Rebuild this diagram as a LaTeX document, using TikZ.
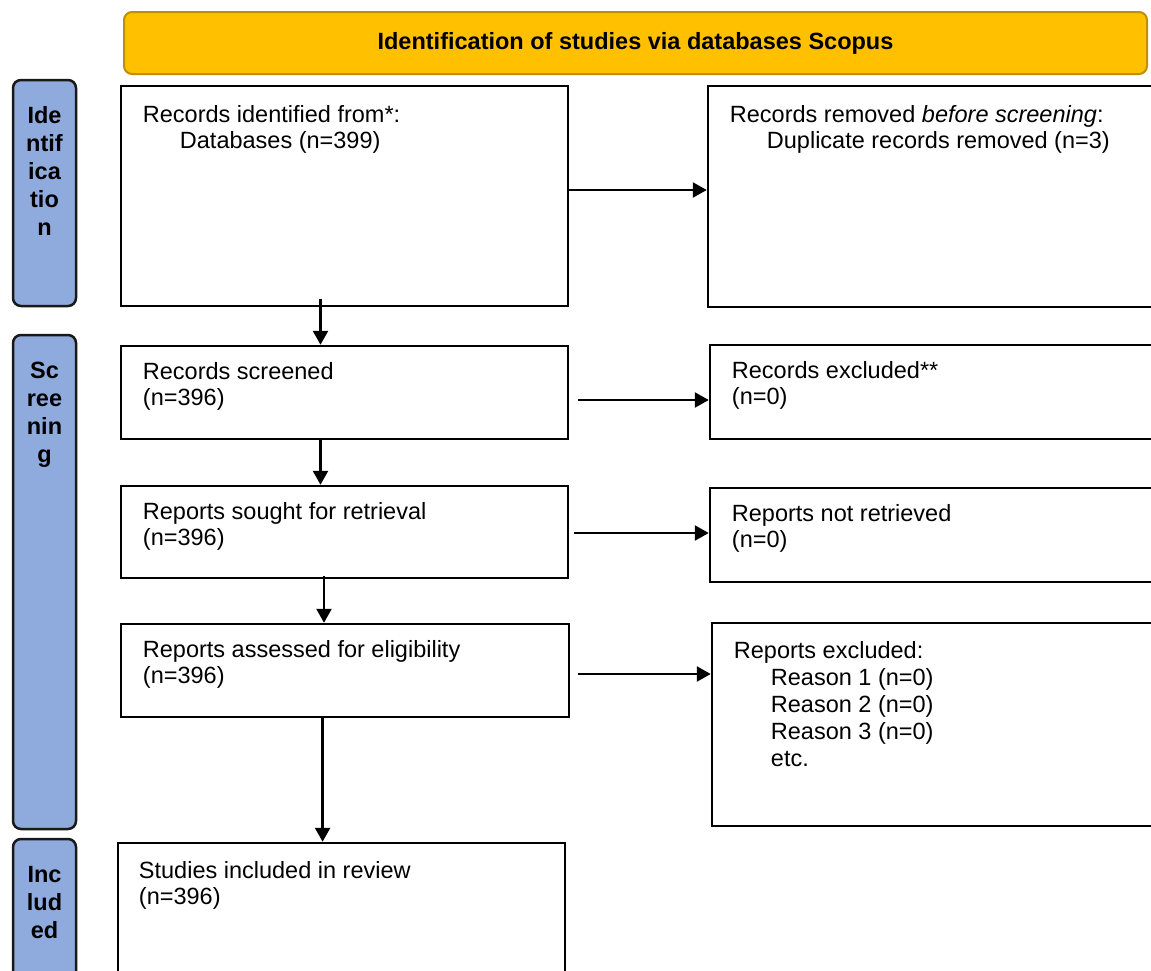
\documentclass[tikz,border=0pt]{standalone}
\usepackage{fontspec}
\setmainfont{Liberation Sans}
\usetikzlibrary{positioning, calc, arrows.meta}
\definecolor{prGold}{RGB}{255, 192, 0}
\definecolor{prGoldDark}{RGB}{191, 144, 0}
\definecolor{prBlue}{RGB}{143, 170, 220}
\definecolor{prEdge}{RGB}{25, 25, 25}
\tikzset{
    base/.style={
        font=\fontsize{23.5}{25.5}\selectfont,
        inner sep=0pt
    },
    record/.style={
        rectangle,
        draw=black,
        line width=2.5pt,
        fill=white,
        inner sep=0pt
    },
    phase/.style={
        rectangle,
        rounded corners=8pt,
        draw=prEdge,
        line width=2.5pt,
        fill=prBlue,
        inner sep=0pt,
        minimum width=63pt
    },
    header/.style={
        rectangle,
        rounded corners=8pt,
        draw=prGoldDark,
        line width=2pt,
        fill=prGold,
        inner sep=0pt,
        font=\fontsize{23.5}{27}\selectfont\bfseries
    },
    phasetext/.style={
        base,
        font=\fontsize{23.5}{28}\selectfont\bfseries,
        align=center
    },
    entry/.style={
        base,
        align=left
    },
    flow/.style={
        -{Triangle[length=14pt, width=15pt]},
        line width=2.5pt,
        color=black
    }
}

\begin{document}
\begin{tikzpicture}[x=1pt, y=-1pt]
  \useasboundingbox (0,0) rectangle (1151,970);
  \fill[white] (0,0) rectangle (1151,970);

  % Header
  \node[header, minimum width=1023pt, minimum height=62pt] (banner) at (635.5,43)
      {Identification of studies via databases Scopus};

  % Phase bars
  \node[phase, minimum height=226pt] (idbar) at (44.5,193) {};
  \node[phase, minimum height=494pt] (scbar) at (44.5,582) {};
  \node[phase, minimum height=161pt] (inbar) at (44.5,919.5) {};
  \node[phasetext, below=28pt of idbar.north] (idlabel) {Ide\\ntif\\ica\\tio\\n};
  \node[phasetext, below=28pt of scbar.north] (sclabel) {Sc\\ree\\nin\\g};
  \node[phasetext, below=28pt of inbar.north] (inlabel) {Inc\\lud\\ed};

  % Left column
  \node[record, minimum width=447pt, minimum height=220pt] (ident) at (344.5,196) {};
  \node[record, minimum width=447pt, minimum height=93pt] (screened) at (344.5,392.5) {};
  \node[record, minimum width=447pt, minimum height=92pt] (sought) at (344.5,532) {};
  \node[record, minimum width=448pt, minimum height=93pt] (assessed) at (345,670.5) {};
  \node[record, minimum width=447pt, minimum height=157pt] (included) at (341.5,921.5) {};

  % Right column
  \node[record, minimum width=472pt, minimum height=221pt] (removed) at (944,196.5) {};
  \node[record, minimum width=470pt, minimum height=94pt] (excluded) at (945,392) {};
  \node[record, minimum width=470pt, minimum height=94pt] (notretr) at (945,535) {};
  \node[record, minimum width=468pt, minimum height=203pt] (reasons) at (946,724.5) {};

  % Texts
  \node[entry, below right=21pt and 23pt of ident.north west] (identtxt)
      {Records identified from*:\\\hspace*{37pt}Databases (n=399)};
  \node[entry, below right=18pt and 23pt of screened.north west] (screenedtxt)
      {Records screened\\(n=396)};
  \node[entry, below right=18pt and 23pt of sought.north west] (soughttxt)
      {Reports sought for retrieval\\(n=396)};
  \node[entry, below right=18pt and 23pt of assessed.north west] (assessedtxt)
      {Reports assessed for eligibility\\(n=396)};
  \node[entry, below right=20pt and 22pt of included.north west] (includedtxt)
      {Studies included in review\\(n=396)};
  \node[entry, below right=21pt and 23pt of removed.north west] (removedtxt)
      {Records removed \textit{before screening}:\\\hspace*{37pt}Duplicate records removed (n=3)};
  \node[entry, below right=18pt and 23pt of excluded.north west] (excludedtxt)
      {Records excluded**\\(n=0)};
  \node[entry, below right=18pt and 23pt of notretr.north west] (notretrtxt)
      {Reports not retrieved\\(n=0)};
  \node[entry, font=\fontsize{23.5}{27}\selectfont, below right=20pt and 23pt of reasons.north west] (reasonstxt)
      {Reports excluded:\\\hspace*{37pt}Reason 1 (n=0)\\\hspace*{37pt}Reason 2 (n=0)\\
       \hspace*{37pt}Reason 3 (n=0)\\\hspace*{37pt}etc.};

  % Side arrows
  \draw[flow] ([yshift=6pt]ident.east) -- ([yshift=6pt]ident.east -| removed.west);
  \draw[flow, shorten <=9pt] ([yshift=-7.5pt]screened.east) -- ([yshift=-7.5pt]screened.east -| excluded.west);
  \draw[flow, shorten <=5pt] ([yshift=-1pt]sought.east) -- ([yshift=-1pt]sought.east -| notretr.west);
  \draw[flow, shorten <=8pt] ([yshift=-3.5pt]assessed.east) -- ([yshift=-3.5pt]assessed.east -| reasons.west);

  % Down arrows
  \draw[flow, shorten <=-8pt] ([xshift=-24pt]ident.south) -- ([xshift=-24pt]ident.south |- screened.north);
  \draw[flow] ([xshift=-24pt]screened.south) -- ([xshift=-24pt]screened.south |- sought.north);
  \draw[flow, shorten <=-3pt] ([xshift=-20.5pt]sought.south) -- ([xshift=-20.5pt]sought.south |- assessed.north);
  \draw[flow, shorten <=-2pt] ([xshift=-22.4pt]assessed.south) -- ([xshift=-22.4pt]assessed.south |- included.north);
\end{tikzpicture}
\end{document}
